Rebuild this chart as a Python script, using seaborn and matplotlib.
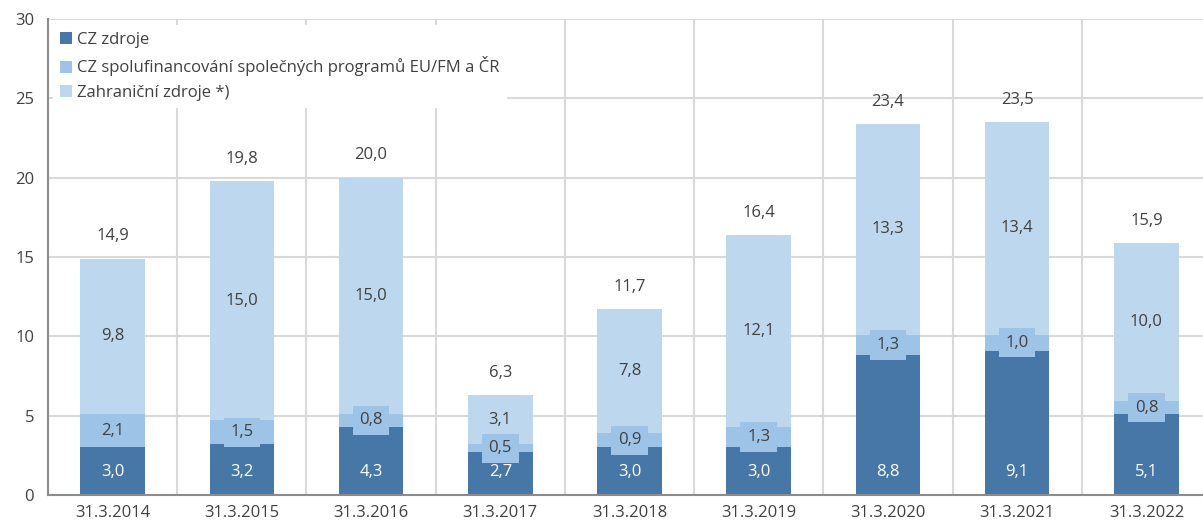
import seaborn as sns
import matplotlib.pyplot as plt
import pandas as pd
from matplotlib.patches import Patch

# data
dates = ['31.3.2014', '31.3.2015', '31.3.2016', '31.3.2017', '31.3.2018',
         '31.3.2019', '31.3.2020', '31.3.2021', '31.3.2022']
cz_zdroje = [3.0, 3.2, 4.3, 2.7, 3.0, 3.0, 8.8, 9.1, 5.1]
cz_spolufin = [2.1, 1.5, 0.8, 0.5, 0.9, 1.3, 1.3, 1.0, 0.8]
zahranicni = [9.8, 15.0, 15.0, 3.1, 7.8, 12.1, 13.3, 13.4, 10.0]
celkem = [14.9, 19.8, 20.0, 6.3, 11.7, 16.4, 23.4, 23.5, 15.9]

names = ['CZ zdroje', 'CZ spolufinancování společných programů EU/FM a ČR',
         'Zahraniční zdroje *)']
colors = ['#4677A7', '#9DC3E6', '#BDD7EE']

df = pd.DataFrame({'datum': dates, 'cz': cz_zdroje, 'spol': cz_spolufin,
                   'zahr': zahranicni, 'celkem': celkem})
df['cz_spol'] = df['cz'] + df['spol']

sns.set_style('white')
plt.rcParams['font.family'] = ['Open Sans', 'DejaVu Sans']
txt = '#404040'

fig = plt.figure(figsize=(12.03, 5.30), dpi=100)
ax = fig.add_axes([48 / 1203, 35 / 530, 1163 / 1203, 476 / 530])

# stacked look: draw cumulative heights from tallest to shortest
for col, c in zip(['celkem', 'cz_spol', 'cz'], colors[::-1]):
    sns.barplot(data=df, x='datum', y=col, color=c, width=0.5, saturation=1,
                linewidth=0, edgecolor='none', ax=ax, zorder=2)

fs = 12
for i in range(len(dates)):
    # CZ zdroje label sits near the bar base
    ax.text(i, 1.45, f'{cz_zdroje[i]:.1f}'.replace('.', ','), ha='center', va='center',
            color='white', fontsize=fs, zorder=4,
            bbox=dict(boxstyle='square,pad=0.4', fc=colors[0], ec='none'))
    top = celkem[i]
    mid = cz_zdroje[i] + cz_spolufin[i]
    ax.text(i, (mid + top) / 2, f'{zahranicni[i]:.1f}'.replace('.', ','), ha='center',
            va='center', color=txt, fontsize=fs, zorder=4,
            bbox=dict(boxstyle='square,pad=0.4', fc=colors[2], ec='none'))
    ax.text(i, (cz_zdroje[i] + mid) / 2, f'{cz_spolufin[i]:.1f}'.replace('.', ','),
            ha='center', va='center', color=txt, fontsize=fs, zorder=5,
            bbox=dict(boxstyle='square,pad=0.4', fc=colors[1], ec='none'))
    ax.text(i, top + 1.4, f'{top:.1f}'.replace('.', ','), ha='center', va='center',
            color=txt, fontsize=fs, zorder=4)

ax.set_xlim(-0.5, len(dates) - 0.5)
ax.set_ylim(0, 30)
ax.set_yticks(range(0, 31, 5))
ax.set_xticks([i + 0.5 for i in range(len(dates) - 1)], minor=True)
ax.grid(axis='y', which='major', color='#D9D9D9', lw=1.5, zorder=0)
ax.grid(axis='x', which='minor', color='#D9D9D9', lw=1.5, zorder=0)
ax.set_axisbelow(True)
ax.set_xlabel('')
ax.set_ylabel('')
ax.tick_params(axis='both', which='both', length=0, labelsize=fs, labelcolor='#404040')
ax.tick_params(axis='y', pad=10)
ax.tick_params(axis='x', pad=7)

for s in ['top', 'right']:
    ax.spines[s].set_visible(False)
for s in ['left', 'bottom']:
    ax.spines[s].set_color('#8C8C8C')
    ax.spines[s].set_linewidth(1.5)

handles = [Patch(fc=c, ec='none') for c in colors]
leg = ax.legend(handles, names, loc='upper left', bbox_to_anchor=(0.0, 0.997),
                frameon=True, fancybox=False, framealpha=1, edgecolor='white',
                fontsize=fs, handlelength=0.75, handleheight=0.75, handletextpad=0.3,
                labelspacing=0.5, borderpad=0.4, borderaxespad=0.3)
for t in leg.get_texts():
    t.set_color(txt)
leg.set_zorder(6)

plt.savefig('out.png', dpi=100)
